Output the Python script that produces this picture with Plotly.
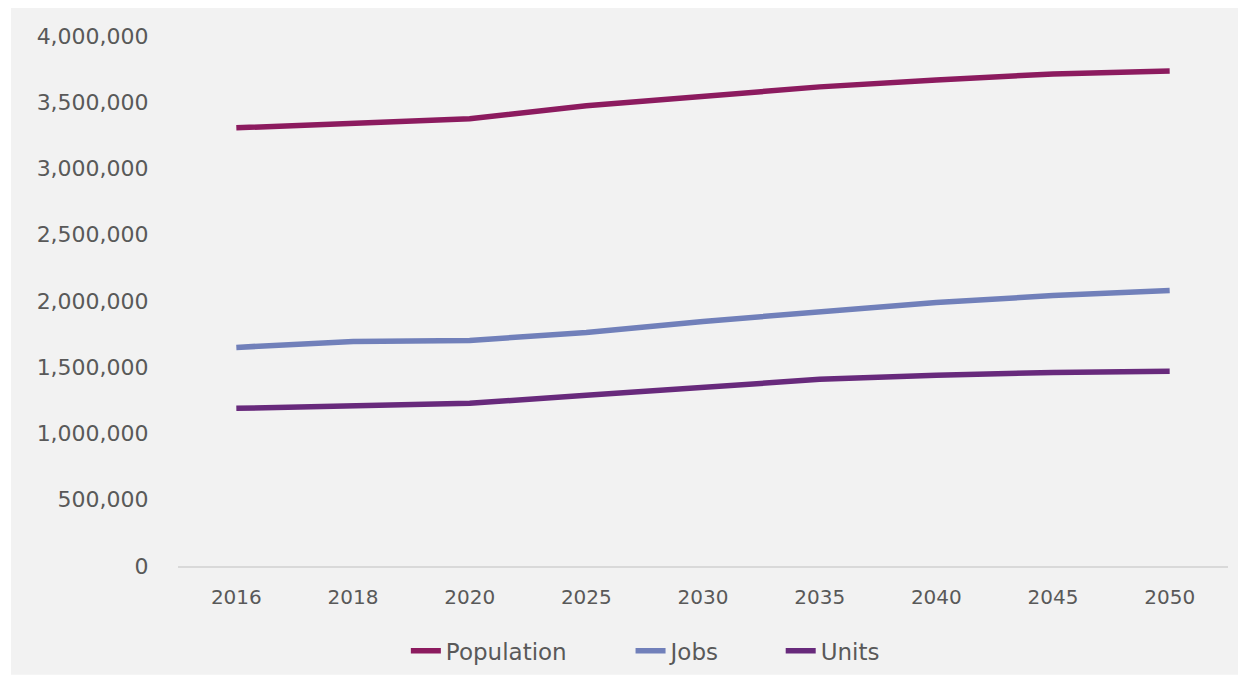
import plotly.graph_objects as go

years = ["2016", "2018", "2020", "2025", "2030", "2035", "2040", "2045", "2050"]
population = [3307000, 3345000, 3375000, 3473000, 3548000, 3616000, 3668000, 3714000, 3736000]
jobs = [1650000, 1695000, 1702000, 1763000, 1846000, 1921000, 1989000, 2041000, 2079000]
units = [1190000, 1205000, 1228000, 1288000, 1348000, 1409000, 1439000, 1461000, 1469000]

series = [
    ("Population", population, "#8c1b5f", "legend", 0.217),
    ("Jobs", jobs, "#7180ba", "legend2", 0.431),
    ("Units", units, "#682a7c", "legend3", 0.574),
]

FONT = "DejaVu Sans"
TXT = "#595959"
fig = go.Figure()
legends = {}
for name, vals, col, lg, lx in series:
    fig.add_trace(go.Scatter(x=years, y=vals, name=name, mode="lines",
                             line=dict(color=col, width=5.5), legend=lg))
    legends[lg] = dict(orientation="h", x=lx, xanchor="left", y=-0.158, yanchor="middle",
                       font=dict(family=FONT, size=23, color=TXT),
                       bgcolor="rgba(0,0,0,0)")

fig.update_layout(
    width=1240, height=675,
    margin=dict(l=170, r=20, t=28, b=116),
    paper_bgcolor="white",
    plot_bgcolor="rgba(0,0,0,0)",
    font=dict(family=FONT, size=20, color=TXT),
    showlegend=True,
    shapes=[dict(type="rect", xref="paper", yref="paper",
                 x0=-0.159, x1=1.0095, y0=-0.2053, y1=1.0527,
                 fillcolor="#f2f2f2", line=dict(width=0), layer="below")],
    xaxis=dict(showgrid=False, showline=True, linecolor="#d9d9d9", linewidth=2,
               range=[-0.5, len(years) - 0.5],
               ticks="outside", ticklen=12, tickcolor="rgba(0,0,0,0)",
               tickfont=dict(family=FONT, size=20, color=TXT),
               zeroline=False),
    yaxis=dict(range=[0, 4000000], tickvals=[0, 500000, 1000000, 1500000, 2000000,
                                             2500000, 3000000, 3500000, 4000000],
               tickformat=",d", showgrid=False, showline=False, zeroline=False,
               ticks="outside", ticklen=24, tickcolor="rgba(0,0,0,0)",
               tickfont=dict(family=FONT, size=22, color=TXT)),
    **legends,
)

fig.write_html("out.html")
